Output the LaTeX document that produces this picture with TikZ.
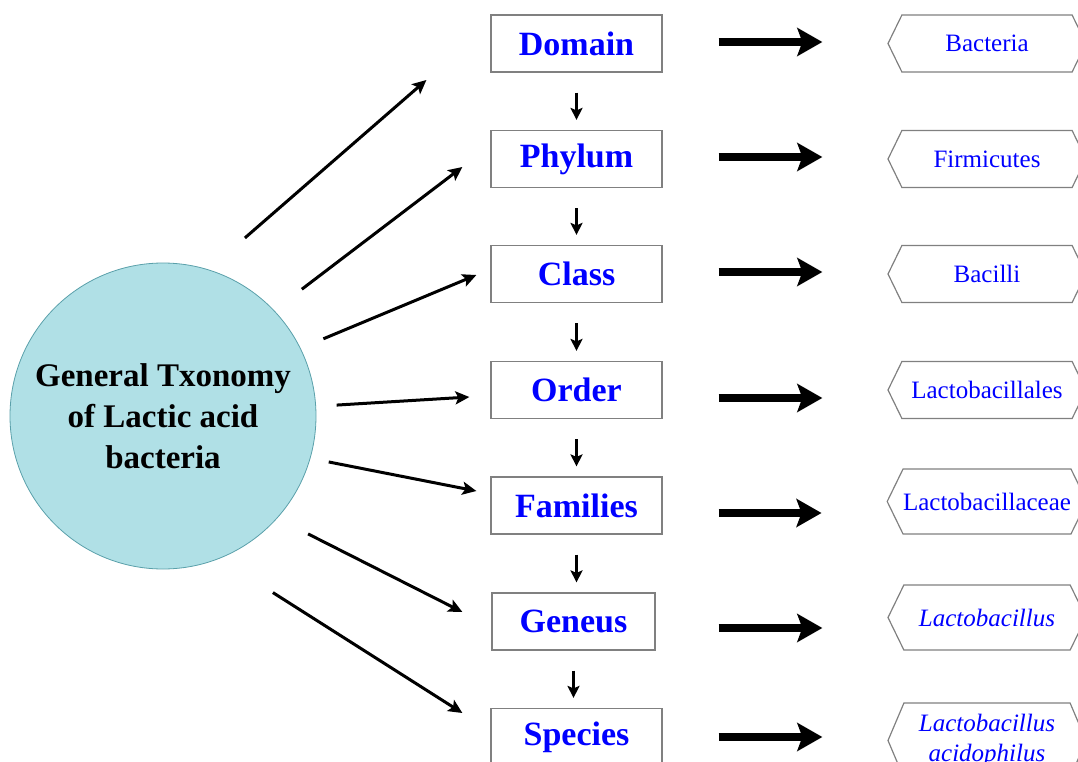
\documentclass[tikz,border=0pt]{standalone}
\usepackage{fontspec}
\setmainfont{Liberation Serif}
\definecolor{rankblue}{RGB}{0, 0, 255}
\definecolor{cellteal}{RGB}{176, 224, 230}
\definecolor{edgeteal}{RGB}{90, 160, 170}
\definecolor{boxgray}{RGB}{128, 128, 128}
\usetikzlibrary{shapes.symbols, arrows.meta}

\begin{document}
\begin{tikzpicture}[x=1pt, y=-1pt,
  rank/.style={draw=boxgray, line width=1.2pt, minimum width=171pt, minimum height=57pt,
    inner sep=0pt, text=rankblue, font=\fontsize{34}{40}\selectfont\bfseries},
  taxon/.style={draw=boxgray, line width=1.2pt, signal, signal to=west and east,
    signal pointer angle=128, minimum width=198pt, minimum height=57pt, inner sep=0pt,
    text=rankblue, align=center, font=\fontsize{25}{30}\selectfont},
  fan/.style={-{Stealth[length=14pt, width=13pt, inset=3pt]}, line width=3pt},
  down/.style={-{Stealth[length=12pt, width=12pt, inset=2.5pt]}, line width=2.6pt,
    shorten <=20pt, shorten >=10pt},
  bigarrow/.style={-{Stealth[length=25pt, width=28pt, inset=5pt]}, line width=7.5pt,
    shorten >=65pt}]
  \clip (0,0) rectangle (1078,762);

  % Central circle
  \node[circle, fill=cellteal, draw=edgeteal, line width=0.8pt, minimum size=306pt,
    align=center, font=\fontsize{33}{41}\selectfont\bfseries] (lab) at (163,416)
    {General Txonomy\\of Lactic acid\\bacteria};

  % Taxonomic ranks
  \node[rank] (domain) at (576.5,43.5) {Domain};
  \node[rank] (phylum) at (576.5,159) {Phylum};
  \node[rank] (class) at (576.5,274) {Class};
  \node[rank] (order) at (576.5,390) {Order};
  \node[rank] (family) at (576.5,505.5) {Families};
  \node[rank, minimum width=163pt] (genus) at (573.5,621.5) {Geneus};
  \node[rank] (species) at (576.5,737) {Species};

  % Names for each rank
  \node[taxon] (bact) at (987,43.5) {Bacteria};
  \node[taxon] (firm) at (987,159) {Firmicutes};
  \node[taxon] (bacilli) at (987,274) {Bacilli};
  \node[taxon] (lales) at (987,390) {Lactobacillales};
  \node[taxon, minimum height=65pt] (lceae) at (987,501.5) {Lactobacillaceae};
  \node[taxon, minimum height=65pt] (lbac) at (987,617.5) {\itshape Lactobacillus};
  \node[taxon, minimum height=75pt, signal pointer angle=134] (lacid) at (987,740.5)
    {\itshape Lactobacillus\\\itshape acidophilus};

  % Arrows fanning out of the circle
  \foreach \a/\r/\n/\dx/\dy in {65.3/196/domain/-64/36.5, 42.4/188/phylum/-28/8,
      25.7/178/class/-14/1, 3.6/174/order/-21/7, -15.5/172/family/-14/-14.5,
      -39.1/187/genus/-29/-9.5, -58.1/208/species/-28/-24}
    \draw[fan] ([shift={(\a:\r pt)}]lab.center) -- ([shift={(\dx,\dy)}]\n.west);

  % Rank to rank
  \foreach \a/\b in {domain/phylum, phylum/class, class/order, order/family,
      family/genus, genus/species}
    \draw[down] (\a.south) -- (\a.south |- \b.north);

  % Rank to name
  \foreach \a/\b/\y/\s in {domain/bact/42/56, phylum/firm/157/56, class/bacilli/272/56,
      order/lales/398/56, family/lceae/513/56, genus/lbac/628/63, species/lacid/737/56}
    \draw[bigarrow, shorten <=\s pt] (\a.east |- 0,\y) -- (\b.west |- 0,\y);
\end{tikzpicture}
\end{document}
